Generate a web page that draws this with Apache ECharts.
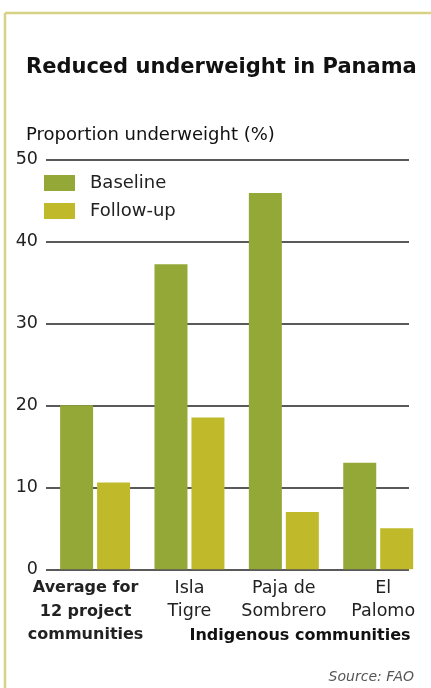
<!DOCTYPE html>
<html>
<head>
<meta charset="utf-8">
<script src="https://cdn.jsdelivr.net/npm/echarts@6/dist/echarts.min.js"></script>
<style>
html,body{margin:0;padding:0;background:#fff;}
#c{width:431px;height:688px;}
</style>
</head>
<body>
<div id="c"></div>
<script>
const categories = ["Average for\n12 project\ncommunities", "Isla\nTigre", "Paja de\nSombrero", "El\nPalomo"];
const baseline = [20, 37.2, 45.9, 13.0];
const followUp = [10.6, 18.5, 7.0, 5.0];
const yTicks = [0, 10, 20, 30, 40, 50];
const seriesNames = ["Baseline", "Follow-up"];

const FONT = "'DejaVu Sans', sans-serif";
const chart = echarts.init(document.getElementById('c'), null, {renderer: 'canvas'});

const xData = categories.map((c, i) => {
  const item = {value: c, textStyle: {}};
  if (i === 0) { item.textStyle = {fontWeight: 'bold', fontSize: 16, padding: [0, 19, 0, 0]}; }
  if (i === 3) { item.textStyle = {padding: [0, 0, 0, 10]}; }
  return item;
});

const option = {
  animation: false,
  backgroundColor: '#fff',
  title: [
    {text: 'Reduced underweight in Panama', left: 21, top: 52,
     textStyle: {fontFamily: FONT, fontSize: 21, fontWeight: 'bold', color: '#111'}},
    {text: 'Proportion underweight (%)', left: 21, top: 121,
     textStyle: {fontFamily: FONT, fontSize: 18, fontWeight: 'normal', color: '#111'}},
    {text: 'Indigenous communities', left: 295, top: 623, textAlign: 'center',
     textStyle: {fontFamily: FONT, fontSize: 16, fontWeight: 'bold', color: '#111'}},
    {text: 'Source: FAO', right: 12, top: 665,
     textStyle: {fontFamily: FONT, fontSize: 14, fontStyle: 'italic', fontWeight: 'normal', color: '#555'}}
  ],
  graphic: [
    {type: 'line', shape: {x1: 5, y1: 13, x2: 431, y2: 13}, style: {stroke: '#d8d384', lineWidth: 2.5}},
    {type: 'line', shape: {x1: 5, y1: 13, x2: 5, y2: 688}, style: {stroke: '#d8d384', lineWidth: 2.5}}
  ],
  legend: {
    orient: 'vertical', left: 44, top: 174, padding: 0,
    itemWidth: 31, itemHeight: 16, itemGap: 10,
    icon: 'rect',
    textStyle: {fontFamily: FONT, fontSize: 18, color: '#222', padding: [0, 0, 0, 10]},
    data: seriesNames
  },
  grid: [
    {left: 46, right: 22, top: 159.3, bottom: 118.7},
    {left: 47.9, right: 5.6, top: 159.3, bottom: 118.7}
  ],
  xAxis: [
    {gridIndex: 0, type: 'category', data: categories, show: false},
    {gridIndex: 1, type: 'category', data: xData,
     axisLine: {show: false}, axisTick: {show: false},
     axisLabel: {fontFamily: FONT, fontSize: 17.5, color: '#222', lineHeight: 23.5, margin: 7, interval: 0}}
  ],
  yAxis: [
    {gridIndex: 0, type: 'value', min: yTicks[0], max: yTicks[yTicks.length - 1], interval: 10,
     axisLine: {show: false}, axisTick: {show: false},
     axisLabel: {fontFamily: FONT, fontSize: 17.5, color: '#222', margin: 8},
     splitLine: {lineStyle: {color: '#222', width: 1.6}}},
    {gridIndex: 1, type: 'value', min: yTicks[0], max: yTicks[yTicks.length - 1], interval: 10, show: false,
     splitLine: {show: false}}
  ],
  series: [
    {name: seriesNames[0], type: 'bar', xAxisIndex: 1, yAxisIndex: 1, data: baseline,
     barWidth: 33, barGap: '12%', itemStyle: {color: '#93a836'}},
    {name: seriesNames[1], type: 'bar', xAxisIndex: 1, yAxisIndex: 1, data: followUp,
     barWidth: 33, barGap: '12%', itemStyle: {color: '#c0ba2a'}}
  ]
};
chart.setOption(option);
</script>
</body>
</html>
